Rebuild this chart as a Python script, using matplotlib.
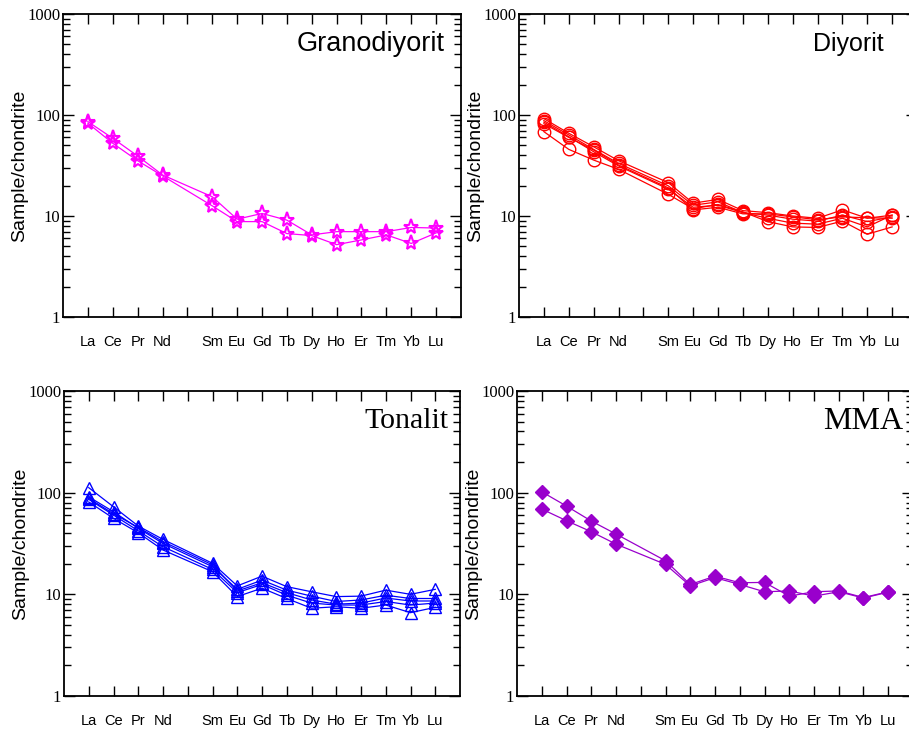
import matplotlib
matplotlib.use("Agg")
import matplotlib.pyplot as plt
from matplotlib.ticker import LogLocator, NullFormatter, FixedLocator

# REE order, Pm left out (empty slot at 5)
elements = ["La", "Ce", "Pr", "Nd", "Sm", "Eu", "Gd", "Tb", "Dy", "Ho", "Er", "Tm", "Yb", "Lu"]
xpos = [1, 2, 3, 4, 6, 7, 8, 9, 10, 11, 12, 13, 14, 15]

granodiyorit = [
    [86, 58.8, 39.3, 25.5, 15.5, 9.3, 10.6, 9.1, 6.5, 7.0, 7.0, 7.0, 7.7, 7.6],
    [83, 52.5, 35.3, 25.0, 12.6, 8.8, 8.8, 6.7, 6.4, 5.2, 5.8, 6.5, 5.35, 6.8],
]

diyorit = [
    [92, 66, 48.5, 35.3, 21.4, 13.4, 14.6, 11.3, 10.8, 10.0, 9.5, 11.5, 9.5, 10.2],
    [88, 63.5, 45.7, 33.2, 19.9, 12.8, 13.8, 10.8, 10.2, 9.3, 8.9, 10.2, 8.8, 9.8],
    [85, 61, 43.3, 31.3, 18.5, 12.2, 12.8, 10.8, 9.5, 8.5, 8.3, 9.5, 7.8, 10.2],
    [82, 60, 45, 32, 19, 11.5, 12.2, 10.5, 10.5, 9.8, 9.2, 9.8, 9.6, 9.5],
    [68.4, 45.7, 35.8, 29.0, 16.4, 11.8, 13.0, 11.0, 8.8, 7.8, 7.7, 8.9, 6.6, 7.8],
]

tonalit = [
    [112, 72.6, 47, 34.7, 20.2, 12.1, 15.1, 11.9, 10.6, 9.5, 9.6, 11.0, 10.0, 11.2],
    [91, 64.9, 44.6, 31.7, 18.7, 11.2, 13.8, 11.0, 9.6, 8.5, 8.8, 9.8, 9.1, 9.1],
    [86, 60.2, 42.2, 29.4, 17.6, 10.4, 12.5, 9.8, 8.2, 7.85, 7.85, 8.5, 7.85, 8.2],
    [81, 55.9, 40.3, 27.3, 16.7, 9.5, 11.5, 9.1, 7.3, 7.55, 7.3, 7.85, 6.6, 7.45],
    [88, 62, 45.5, 33, 19.5, 10.8, 13.0, 10.4, 8.8, 8.0, 8.2, 9.2, 8.6, 8.6],
]

mma = [
    [102, 73.8, 52.6, 39.2, 21.4, 12.5, 15.1, 13.0, 13.1, 9.6, 10.6, 10.8, 9.3, 10.6],
    [69, 53, 41.3, 31.2, 19.7, 12.1, 14.6, 12.5, 10.6, 10.8, 9.6, 10.6, 9.2, 10.5],
]

W, H = 909, 729
fig = plt.figure(figsize=(W / 100, H / 100), dpi=100)


def make_axes(left, top, right, bottom):
    return fig.add_axes([left / W, 1 - bottom / H, (right - left) / W, (bottom - top) / H])


def style(ax):
    ax.set_yscale("log")
    ax.set_ylim(1, 1000)
    ax.set_xlim(0, 16)
    # labelled ticks at the elements, a bare tick at the Pm slot
    ax.set_xticks(xpos, elements)
    ax.xaxis.set_minor_locator(FixedLocator([5]))
    ax.tick_params(axis="x", which="both", direction="in", length=7, width=1,
                   top=True, pad=13, labelsize=10.5)
    for t in ax.get_xticklabels():
        t.set_fontfamily("Liberation Sans")
    ax.yaxis.set_minor_locator(LogLocator(base=10, subs=range(2, 10), numticks=5))
    ax.yaxis.set_minor_formatter(NullFormatter())
    ax.set_yticks([1, 10, 100, 1000], ["1", "10", "100", "1000"])
    ax.tick_params(axis="y", which="major", direction="in", length=8, width=1,
                   right=True, labelsize=12, pad=2)
    ax.tick_params(axis="y", which="minor", direction="in", length=5, width=1, right=True)
    for t in ax.get_yticklabels():
        t.set_fontfamily("Liberation Serif")
    for s in ax.spines.values():
        s.set_linewidth(1.3)
    ax.set_ylabel("Sample/chondrite", fontsize=14, family="Liberation Sans")
    ax.yaxis.set_label_coords(-0.088, 0.5)


panels = [
    (make_axes(63, 14, 461, 317), granodiyorit, "#FF00FF", "*",
     dict(ms=11, mfc="none", mew=1.5), "Granodiyorit", "Liberation Sans", 19.5, 0.96),
    (make_axes(519, 14, 917, 317), diyorit, "#FF0000", "o",
     dict(ms=9, mfc="none", mew=1.0), "Diyorit", "Liberation Sans", 18, 0.915),
    (make_axes(64, 391, 460, 696), tonalit, "#0000FF", "^",
     dict(ms=9, mfc="none", mew=1.0), "Tonalit", "Liberation Serif", 21.5, 0.97),
    (make_axes(517, 391, 913, 696), mma, "#9900CC", "D",
     dict(ms=7, mfc="#9900CC", mew=1.0), "MMA", "Liberation Serif", 23, 0.975),
]

for ax, series, color, marker, mk, title, tfont, tsize, tx in panels:
    style(ax)
    for vals in series:
        ax.plot(xpos, vals, color=color, lw=0.9, marker=marker, mec=color, **mk)
    ax.text(tx, 0.9, title, transform=ax.transAxes, ha="right", va="center",
            fontsize=tsize, family=tfont)

fig.savefig("out.png", dpi=100)
